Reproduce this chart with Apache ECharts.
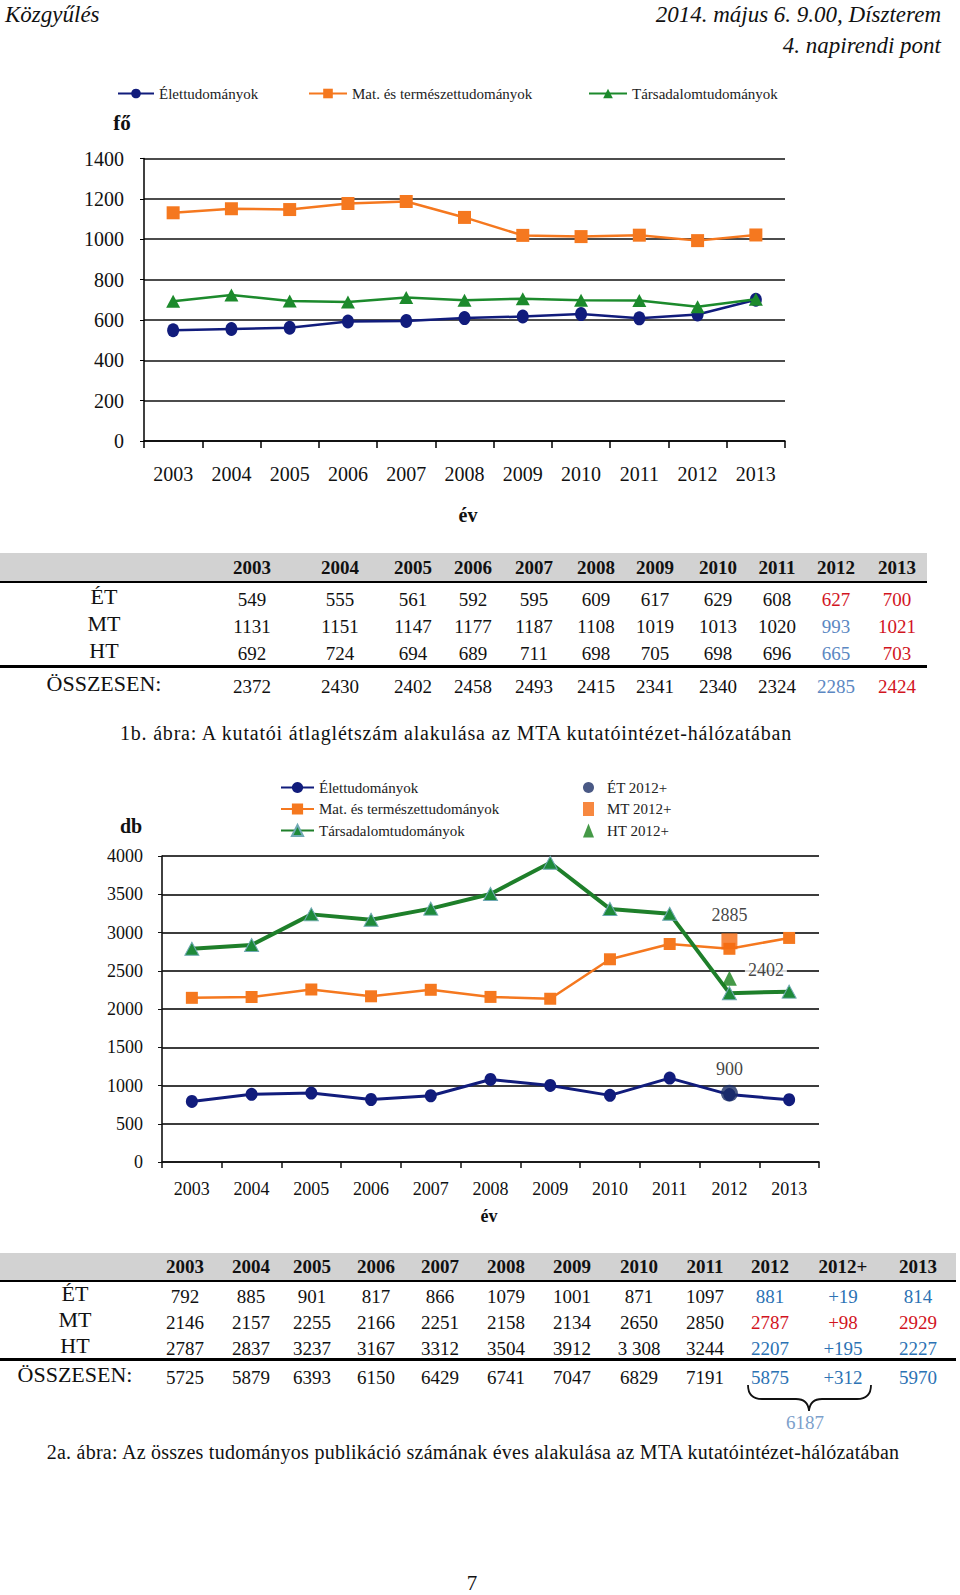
<!DOCTYPE html>
<html><head><meta charset="utf-8">
<script src="https://cdn.jsdelivr.net/npm/echarts@6/dist/echarts.min.js"></script>
<style>
html,body{margin:0;padding:0;background:#fff;}
#page{position:relative;width:960px;height:1595px;overflow:hidden;font-family:'Liberation Serif','DejaVu Serif',serif;color:#111;}
#c1{position:absolute;left:0;top:0;width:960px;height:530px;}
#c2{position:absolute;left:0;top:740px;width:960px;height:500px;}
.t{position:absolute;white-space:nowrap;line-height:1;}
.c{transform:translate(-50%,-50%);}
.r{transform:translate(-100%,-50%);}
.l{transform:translate(0,-50%);}
.band{position:absolute;left:0;background:#D2D2D2;}
.rule{position:absolute;left:0;background:#000;}
</style>
</head><body>
<div id="page">
  <div id="c1"></div>
  <div id="c2"></div>
</div>
<script>
// ---------- data ----------
const years = ['2003','2004','2005','2006','2007','2008','2009','2010','2011','2012','2013'];
const seriesNames = ['Élettudományok','Mat. és természettudományok','Társadalomtudományok'];
const rowLabels = ['ÉT','MT','HT','ÖSSZESEN:'];

// 1b: researcher headcount
const et1 = [549,555,561,592,595,609,617,629,608,627,700];
const mt1 = [1131,1151,1147,1177,1187,1108,1019,1013,1020,993,1021];
const ht1 = [692,724,694,689,711,698,705,698,696,665,703];
const total1 = [2372,2430,2402,2458,2493,2415,2341,2340,2324,2285,2424];
const yTicks1 = {min:0, max:1400, interval:200};

// 2a: publications
const et2 = [792,885,901,817,866,1079,1001,871,1097,881,814];
const mt2 = [2146,2157,2255,2166,2251,2158,2134,2650,2850,2787,2929];
const ht2 = [2787,2837,3237,3167,3312,3504,3912,3308,3244,2207,2227];
const total2 = [5725,5879,6393,6150,6429,6741,7047,6829,7191,5875,5970];
const plus2012 = ['+19','+98','+195','+312'];
const extraNames = ['ÉT 2012+','MT 2012+','HT 2012+'];
const extra2012 = [900,2885,2402];
const sum2012plus = '6187';
const yTicks2 = {min:0, max:4000, interval:500};
const years2 = ['2003','2004','2005','2006','2007','2008','2009','2010','2011','2012','2012+','2013'];

// ---------- styles ----------
const FONT = 'Liberation Serif';
const NAVY = '#111C7C', ORANGE = '#F5781F', GREEN = '#1C8A2C';
const RED = '#D2141E', BLUE1 = '#5B87C2', BLUE2 = '#2B72B4', BLUE3 = '#7D9FCB';

const page = document.getElementById('page');
function txt(x, y, s, o) {
  o = o || {};
  const d = document.createElement('div');
  d.className = 't ' + (o.align || 'c');
  d.style.left = x + 'px'; d.style.top = y + 'px';
  d.style.fontSize = (o.size || 19) + 'px';
  if (o.bold) d.style.fontWeight = 'bold';
  if (o.italic) d.style.fontStyle = 'italic';
  if (o.color) d.style.color = o.color;
  if (o.ls) d.style.letterSpacing = o.ls + 'px';
  d.textContent = s;
  page.appendChild(d);
}
function box(cls, top, width, height) {
  const d = document.createElement('div');
  d.className = cls;
  d.style.top = top + 'px'; d.style.width = width + 'px'; d.style.height = height + 'px';
  page.appendChild(d);
}

// header
txt(5, 14, 'Közgyűlés', {align:'l', size:23, italic:true});
txt(941, 14, '2014. május 6. 9.00, Díszterem', {align:'r', size:23, italic:true});
txt(941, 45, '4. napirendi pont', {align:'r', size:23, italic:true});

// axis titles
txt(122, 123, 'fő', {size:21, bold:true});
txt(468, 515, 'év', {size:20, bold:true});
txt(131, 826, 'db', {size:20, bold:true});
txt(489, 1216, 'év', {size:18, bold:true});

// ---------- table 1 ----------
box('band', 553, 927, 28);
box('rule', 581, 927, 2);
box('rule', 665, 927, 3);
const cols1 = [252,340,413,473,534,596,655,718,777,836,897];
const rows1y = [599,626,653,686];
const lab1x = [104,104,104,104];
years.forEach((y,i)=>txt(cols1[i], 567, y, {size:19, bold:true}));
const data1 = [et1, mt1, ht1, total1];
const color1 = [
  [RED, RED], [BLUE1, RED], [BLUE1, RED], [BLUE1, RED]
];
data1.forEach((row,r)=>{
  txt(lab1x[r], rows1y[r]-2, rowLabels[r], {size:22});
  row.forEach((v,i)=>{
    let col = i===9 ? color1[r][0] : (i===10 ? color1[r][1] : null);
    txt(cols1[i], rows1y[r], String(v), {size:19, color:col});
  });
});
txt(456, 733, '1b. ábra: A kutatói átlaglétszám alakulása az MTA kutatóintézet-hálózatában', {size:20, ls:0.8});

// ---------- table 2 ----------
box('band', 1253, 956, 27);
box('rule', 1280, 956, 2);
box('rule', 1358, 956, 3);
const cols2 = [185,251,312,376,440,506,572,639,705,770,843,918];
const rows2y = [1296,1322,1348,1377];
const lab2x = [75,75,75,75];
years2.forEach((y,i)=>txt(cols2[i], 1266, y, {size:19, bold:true}));
const data2 = [et2, mt2, ht2, total2];
const color2 = [BLUE2, RED, BLUE2, BLUE2];
data2.forEach((row,r)=>{
  txt(lab2x[r], rows2y[r]-2, rowLabels[r], {size:22});
  const cells = row.slice(0,10).map(String).concat([plus2012[r], String(row[10])]);
  if (r===2) cells[7] = '3 308';
  cells.forEach((v,i)=>{
    txt(cols2[i], rows2y[r], v, {size:19, color: i>=9 ? color2[r] : null});
  });
});
// brace
const svgNS = 'http://www.w3.org/2000/svg';
const svg = document.createElementNS(svgNS,'svg');
svg.setAttribute('width','960'); svg.setAttribute('height','1595');
svg.style.position='absolute'; svg.style.left='0'; svg.style.top='0'; svg.style.pointerEvents='none';
const p = document.createElementNS(svgNS,'path');
p.setAttribute('d','M748,1385 Q748,1399 762,1399 L796,1399 Q808,1399 809,1411 Q810,1399 822,1399 L857,1399 Q871,1399 871,1385');
p.setAttribute('fill','none'); p.setAttribute('stroke','#111'); p.setAttribute('stroke-width','1.8');
svg.appendChild(p); page.appendChild(svg);
txt(805, 1422, sum2012plus, {size:19, color:BLUE3});
txt(473, 1452, '2a. ábra: Az összes tudományos publikáció számának éves alakulása az MTA kutatóintézet-hálózatában', {size:20, ls:0.25});
txt(472, 1583, '7', {size:21});

// ---------- chart 1 ----------
const plain = v => String(v);
const c1 = echarts.init(document.getElementById('c1'), null, {renderer:'svg'});
const legendText = {fontFamily:FONT, fontSize:15, color:'#222'};
c1.setOption({
  animation:false,
  textStyle:{fontFamily:FONT},
  legend:[
    {data:[seriesNames[0]], left:117, top:86, padding:0, itemWidth:36, itemHeight:12, textStyle:legendText},
    {data:[seriesNames[1]], left:308, top:86, padding:0, itemWidth:38, itemHeight:12, textStyle:legendText},
    {data:[seriesNames[2]], left:588, top:86, padding:0, itemWidth:38, itemHeight:12, textStyle:legendText}
  ],
  grid:{left:144, top:158.5, width:641, height:282.5},
  xAxis:{type:'category', data:years, boundaryGap:true,
    axisLine:{lineStyle:{color:'#000', width:1.5}},
    axisTick:{show:true, interval:0, length:7, lineStyle:{color:'#000', width:1.5}},
    axisLabel:{margin:23, fontSize:20, color:'#111', fontFamily:FONT}},
  yAxis:{type:'value', min:yTicks1.min, max:yTicks1.max, interval:yTicks1.interval,
    axisLine:{show:true, lineStyle:{color:'#000', width:1.5}},
    axisTick:{show:true, length:4, lineStyle:{color:'#000'}},
    splitLine:{lineStyle:{color:'#111', width:1.6}},
    axisLabel:{margin:20, fontSize:20, color:'#111', fontFamily:FONT, formatter:plain}},
  series:[
    {name:seriesNames[0], type:'line', data:et1, symbol:'circle', symbolSize:[12,14],
      lineStyle:{color:NAVY, width:2.5}, itemStyle:{color:NAVY}, z:3},
    {name:seriesNames[1], type:'line', data:mt1, symbol:'rect', symbolSize:13,
      lineStyle:{color:ORANGE, width:2.5}, itemStyle:{color:ORANGE}, z:3},
    {name:seriesNames[2], type:'line', data:ht1, symbol:'triangle', symbolSize:[14,13],
      lineStyle:{color:GREEN, width:2.5}, itemStyle:{color:GREEN}, z:4}
  ]
});

// ---------- chart 2 ----------
const c2 = echarts.init(document.getElementById('c2'), null, {renderer:'svg'});
c2.setOption({
  animation:false,
  textStyle:{fontFamily:FONT},
  legend:[
    {data:seriesNames, orient:'vertical', left:280, top:40, padding:0, itemWidth:33, itemHeight:14, itemGap:6.5, textStyle:legendText},
    {data:extraNames, orient:'vertical', left:583, top:40, padding:0, itemWidth:11, itemHeight:14, itemGap:6.5,
      textStyle:Object.assign({padding:[0,0,0,8]}, legendText)}
  ],
  grid:{left:162, top:116, width:657, height:306},
  xAxis:{type:'category', data:years, boundaryGap:true,
    axisLine:{lineStyle:{color:'#111', width:1.6}},
    axisTick:{show:true, interval:0, length:6, lineStyle:{color:'#111', width:1.5}},
    axisLabel:{margin:18, fontSize:18, color:'#111', fontFamily:FONT}},
  yAxis:{type:'value', min:yTicks2.min, max:yTicks2.max, interval:yTicks2.interval,
    axisLine:{show:true, lineStyle:{color:'#111', width:1.6}},
    axisTick:{show:true, length:4, lineStyle:{color:'#111'}},
    splitLine:{lineStyle:{color:'#3c3c3c', width:2}},
    axisLabel:{margin:19, fontSize:18, color:'#111', fontFamily:FONT, formatter:plain}},
  series:[
    {name:seriesNames[0], type:'line', data:et2, symbol:'circle', symbolSize:[12,13],
      lineStyle:{color:NAVY, width:3}, itemStyle:{color:NAVY}, z:3},
    {name:seriesNames[1], type:'line', data:mt2, symbol:'rect', symbolSize:12,
      lineStyle:{color:ORANGE, width:2.5}, itemStyle:{color:ORANGE}, z:3},
    {name:seriesNames[2], type:'line', data:ht2, symbol:'triangle', symbolSize:[14,13],
      lineStyle:{color:'#1E7F2A', width:4}, itemStyle:{color:'#1E8A3A', borderColor:'#6FA9B3', borderWidth:1}, z:4},
    {name:extraNames[0], type:'scatter', data:[[years[9], extra2012[0]]], symbol:'circle', symbolSize:17,
      itemStyle:{color:'#1D2F66'}, z:6,
      label:{show:true, position:'top', distance:7, formatter:String(extra2012[0]), fontSize:18, color:'#111', fontFamily:FONT}},
    {name:extraNames[1], type:'scatter', data:[[years[9], extra2012[1]]], symbol:'rect', symbolSize:16,
      itemStyle:{color:'#F56A10'}, z:6,
      label:{show:true, position:'top', distance:9, formatter:String(extra2012[1]), fontSize:18, color:'#111', fontFamily:FONT}},
    {name:extraNames[2], type:'scatter', data:[[years[9], extra2012[2]]], symbol:'triangle', symbolSize:15,
      itemStyle:{color:'#178019'}, z:6,
      label:{show:true, position:'right', distance:8, offset:[0,-8], formatter:String(extra2012[2]), fontSize:18, color:'#111', fontFamily:FONT, backgroundColor:'#fff', padding:[0,3]}}
  ]
});
</script>
</body></html>
